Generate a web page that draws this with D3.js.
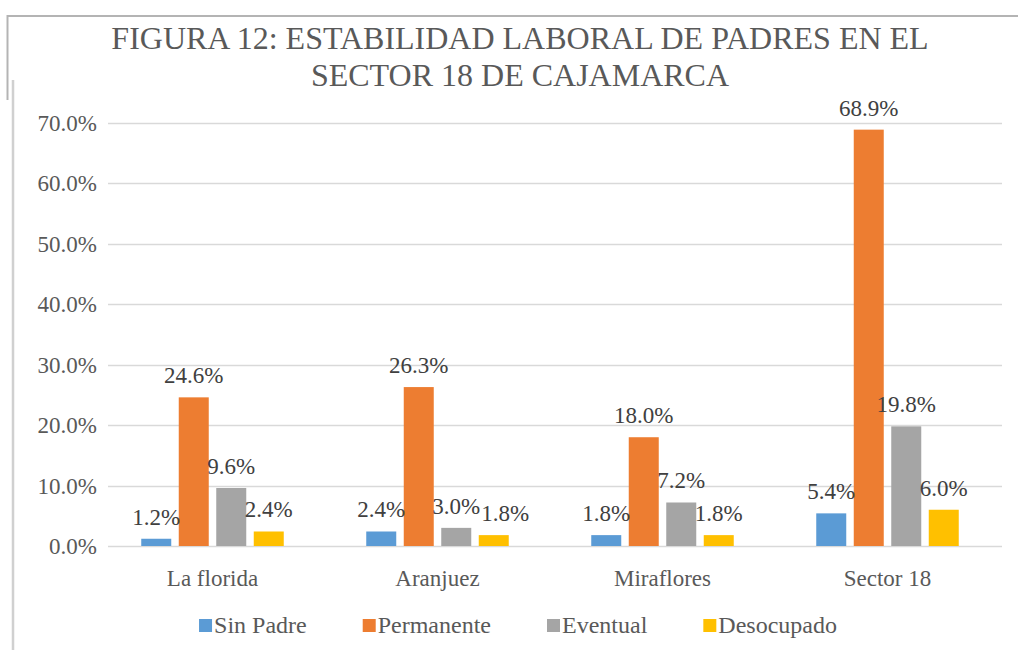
<!DOCTYPE html>
<html>
<head>
<meta charset="utf-8">
<script src="https://cdnjs.cloudflare.com/ajax/libs/d3/7.8.5/d3.min.js"></script>
<style>
  body { margin: 0; background: #fff; }
</style>
</head>
<body>
<div id="chart"></div>
<script>
var categories = ["La florida", "Aranjuez", "Miraflores", "Sector 18"]
var series = ["Sin Padre", "Permanente", "Eventual", "Desocupado"]
var sinPadre = [1.2, 2.4, 1.8, 5.4]
var permanente = [24.6, 26.3, 18.0, 68.9]
var eventual = [9.6, 3.0, 7.2, 19.8]
var desocupado = [2.4, 1.8, 1.8, 6.0]
var yTicks = [0, 10, 20, 30, 40, 50, 60, 70]
var titleLines = ["FIGURA 12: ESTABILIDAD LABORAL DE PADRES EN EL", "SECTOR 18 DE CAJAMARCA"]

var colors = ["#5b9bd5", "#ed7d31", "#a5a5a5", "#ffc000"]
var values = [sinPadre, permanente, eventual, desocupado]
var font = "'Liberation Serif', 'Times New Roman', Tinos, 'DejaVu Serif', serif"

var width = 1018, height = 650

var svg = d3.select("#chart").append("svg")
    .attr("width", width)
    .attr("height", height)
    .style("font-family", font)

// frame lines of the scanned page
svg.append("line").attr("x1", 7).attr("x2", 1018).attr("y1", 16).attr("y2", 16)
    .attr("stroke", "#b4b4b4").attr("stroke-width", 2)
svg.append("line").attr("x1", 7.5).attr("x2", 7.5).attr("y1", 15).attr("y2", 100)
    .attr("stroke", "#b4b4b4").attr("stroke-width", 2)
svg.append("line").attr("x1", 13).attr("x2", 13).attr("y1", 80).attr("y2", 650)
    .attr("stroke", "#d0d0d0").attr("stroke-width", 2.5)

// title
svg.append("g").selectAll("text")
    .data(titleLines)
    .enter().append("text")
    .attr("x", 520)
    .attr("y", (d, i) => 49 + i * 37)
    .attr("text-anchor", "middle")
    .attr("font-size", 32)
    .attr("fill", "#595959")
    .text((d) => d)

var y = d3.scaleLinear().domain([0, 70]).range([546, 123])
var x0 = d3.scaleBand().domain(categories).range([100, 1000]).paddingInner(0.3).paddingOuter(0.15)
var x1 = d3.scaleBand().domain(series).range([0, x0.bandwidth()]).padding(0.2)

// grid
svg.append("g").selectAll("line")
    .data(yTicks)
    .enter().append("line")
    .attr("x1", 108).attr("x2", 1002)
    .attr("y1", (d) => Math.round(y(d)) + 0.5)
    .attr("y2", (d) => Math.round(y(d)) + 0.5)
    .attr("stroke", "#d9d9d9")
    .attr("stroke-width", 1.5)

// y labels
svg.append("g").selectAll("text")
    .data(yTicks)
    .enter().append("text")
    .attr("x", 97)
    .attr("y", (d) => y(d) + 8)
    .attr("text-anchor", "end")
    .attr("font-size", 23)
    .attr("fill", "#595959")
    .text((d) => d.toFixed(1) + "%")

// bars
var groups = svg.append("g").selectAll("g")
    .data(categories)
    .enter().append("g")
    .attr("transform", (d) => "translate(" + x0(d) + ",0)")

groups.selectAll("rect")
    .data((d, ci) => series.map((s, si) => ({s: s, si: si, v: values[si][ci]})))
    .enter().append("rect")
    .attr("x", (d) => x1(d.s))
    .attr("width", x1.bandwidth())
    .attr("y", (d) => y(d.v))
    .attr("height", (d) => y(0) - y(d.v))
    .attr("fill", (d) => colors[d.si])

groups.each(function(c, ci) {
    var g = d3.select(this)
    var prev = null
    series.forEach((s, si) => {
        var v = values[si][ci]
        var t = g.append("text")
            .attr("x", x1(s) + x1.bandwidth() / 2)
            .attr("y", y(v) - 14)
            .attr("text-anchor", "middle")
            .attr("font-size", 23)
            .attr("fill", "#404040")
            .text(v.toFixed(1) + "%")
        var w = t.node().getComputedTextLength()
        var cx = x1(s) + x1.bandwidth() / 2
        // push a label right if it runs into the previous one at a similar height
        if (prev && Math.abs(prev.y - y(v)) < 24 && cx - w / 2 < prev.right + 1) {
            cx = prev.right + 1 + w / 2
            t.attr("x", cx)
        }
        prev = {y: y(v), right: cx + w / 2}
    })
})

// category labels
svg.append("g").selectAll("text")
    .data(categories)
    .enter().append("text")
    .attr("x", (d) => x0(d) + x0.bandwidth() / 2)
    .attr("y", 586)
    .attr("text-anchor", "middle")
    .attr("font-size", 23)
    .attr("fill", "#595959")
    .text((d) => d)

// legend
var gap = 56
var legend = svg.append("g")
var lx = 0
series.forEach((s, i) => {
    var item = legend.append("g").attr("transform", "translate(" + lx + ",0)")
    item.append("rect").attr("x", 0).attr("y", 619).attr("width", 13).attr("height", 13)
        .attr("fill", colors[i])
    var t = item.append("text").attr("x", 15).attr("y", 633)
        .attr("font-size", 24).attr("fill", "#595959").text(s)
    lx += 15 + t.node().getComputedTextLength() + gap
})
var legendWidth = lx - gap
legend.attr("transform", "translate(" + (518 - legendWidth / 2) + ",0)")
</script>
</body>
</html>
